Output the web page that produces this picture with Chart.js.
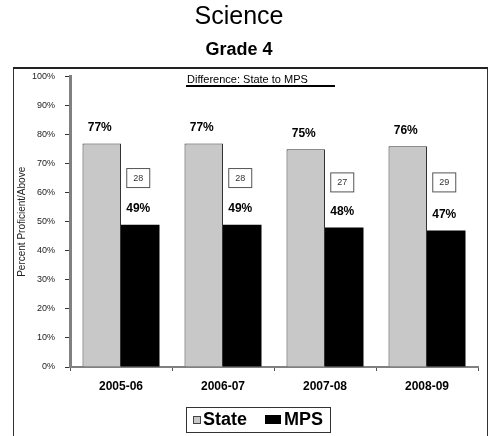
<!DOCTYPE html>
<html>
<head>
<meta charset="utf-8">
<script src="https://cdn.jsdelivr.net/npm/chart.js@4.4.0/dist/chart.umd.min.js"></script>
<style>
  body { margin: 0; background: #fff; }
  canvas { display: block; }
</style>
</head>
<body>
<canvas id="chart" width="489" height="436"></canvas>
<script>
/*---------------- dados ----------------*/

const years = ["2005-06", "2006-07", "2007-08", "2008-09"];
const stateValues = [77, 77, 75, 76];
const mpsValues = [49, 49, 48, 47];
const gapValues = [28, 28, 27, 29]; // caixinhas da diferença State -> MPS
const seriesNames = ["State", "MPS"];

const FONT = "'Liberation Sans', Arial, sans-serif";

/*---------------- desenhos extras (moldura, rótulos, legenda) ----------------*/

const extras = {
  id: "extras",
  afterDatasetsDraw(chart) {
    const ctx = chart.ctx;
    const metaState = chart.getDatasetMeta(0);
    const metaMps = chart.getDatasetMeta(1);

    ctx.save();
    // rótulos de porcentagem em cima das barras
    ctx.fillStyle = "#000";
    ctx.font = "bold 12px " + FONT;
    ctx.textAlign = "center";
    ctx.textBaseline = "middle";
    [metaState, metaMps].forEach((meta, i) => {
      const vals = i === 0 ? stateValues : mpsValues;
      meta.data.forEach((bar, j) => {
        ctx.fillText(vals[j] + "%", bar.x - 2, bar.y - 16);
      });
    });

    // caixinhas com a diferença
    ctx.font = "9px " + FONT;
    metaMps.data.forEach((bar, j) => {
      const top = metaState.data[j].y;
      const cy = (top + bar.y) / 2 - 6;
      const cx = bar.x - 2;
      ctx.fillStyle = "#fff";
      ctx.fillRect(cx - 11.5, cy - 9.5, 23, 19);
      ctx.strokeStyle = "#555";
      ctx.lineWidth = 1;
      ctx.strokeRect(cx - 11.5, cy - 9.5, 23, 19);
      ctx.fillStyle = "#333";
      ctx.fillText(String(gapValues[j]), cx, cy + 0.5);
    });
    ctx.restore();
  },
  afterDraw(chart) {
    const ctx = chart.ctx;
    ctx.save();
    // moldura
    ctx.strokeStyle = "#333";
    ctx.lineWidth = 1;
    ctx.strokeRect(13.5, 68.5, 474, 380);
    ctx.fillStyle = "#222";
    ctx.fillRect(13, 67, 475, 2);

    // cabeçalho "Difference"
    ctx.fillStyle = "#000";
    ctx.font = "11px " + FONT;
    ctx.textAlign = "left";
    ctx.textBaseline = "middle";
    ctx.fillText("Difference: State to MPS", 187, 80);
    ctx.fillRect(186, 85, 149, 2);

    // legenda
    ctx.strokeStyle = "#333";
    ctx.strokeRect(186.5, 407.5, 144, 25);
    const ds = chart.data.datasets;
    ctx.fillStyle = ds[0].backgroundColor;
    ctx.fillRect(193, 416, 7, 7);
    ctx.strokeStyle = "#444";
    ctx.strokeRect(193.5, 416.5, 7, 7);
    ctx.fillStyle = ds[1].backgroundColor;
    ctx.fillRect(265, 415, 16, 9);
    ctx.fillStyle = "#000";
    ctx.font = "bold 18px " + FONT;
    ctx.fillText(ds[0].label, 203, 420);
    ctx.fillText(ds[1].label, 284, 420);
    ctx.restore();
  }
};

/*---------------- gráfico ----------------*/

new Chart(document.getElementById("chart"), {
  type: "bar",
  data: {
    labels: years,
    datasets: [
      { label: seriesNames[0], data: stateValues, backgroundColor: "#c8c8c8",
        borderColor: "#333", borderWidth: 1, borderSkipped: "bottom" },
      { label: seriesNames[1], data: mpsValues, backgroundColor: "#000",
        borderColor: "#000", borderWidth: 0 }
    ]
  },
  options: {
    responsive: false,
    animation: false,
    devicePixelRatio: 1,
    datasets: { bar: { categoryPercentage: 0.755, barPercentage: 1 } },
    layout: { padding: { left: 0, right: 11, top: 0, bottom: 0 } },
    plugins: {
      legend: { display: false },
      tooltip: { enabled: false },
      title: {
        display: true, text: "Science", color: "#000",
        font: { family: FONT, size: 25, weight: "normal" },
        padding: { top: 2, bottom: 0 }
      },
      subtitle: {
        display: true, text: "Grade 4", color: "#000",
        font: { family: FONT, size: 18, weight: "bold" },
        padding: { top: 7, bottom: 16 }
      }
    },
    scales: {
      x: {
        afterFit: s => { s.height = 69; },
        grid: { display: true, drawOnChartArea: false, offset: true, tickLength: 4, color: "#555" },
        border: { color: "#808080", width: 2 },
        ticks: { color: "#000", padding: 8, font: { family: FONT, size: 12, weight: "bold" } }
      },
      y: {
        min: 0, max: 100,
        afterFit: s => { s.width = 70; },
        grid: { display: true, drawOnChartArea: false, tickLength: 5, color: "#333" },
        border: { color: "#808080", width: 3 },
        ticks: { stepSize: 10, color: "#222", padding: 10,
          font: { family: FONT, size: 9 }, callback: v => v + "%" },
        title: { display: true, text: "Percent Proficient/Above", color: "#222",
          font: { family: FONT, size: 10 }, padding: { top: 16, bottom: 0 } }
      }
    }
  },
  plugins: [extras]
});
</script>
</body>
</html>
